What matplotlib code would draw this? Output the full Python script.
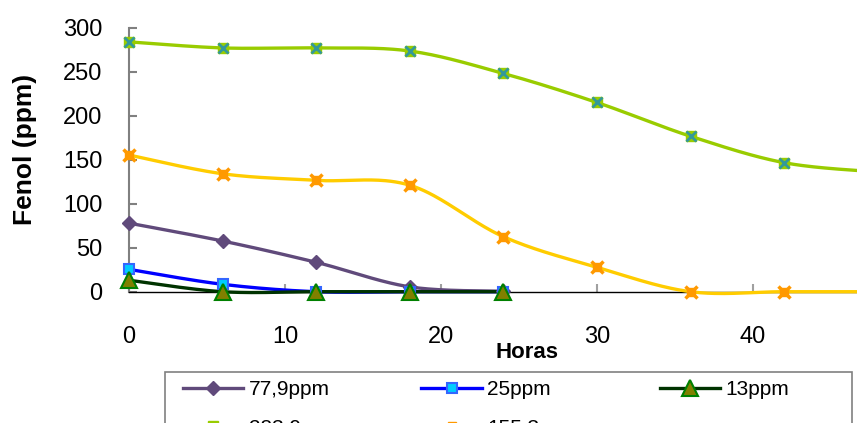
import numpy as np
import matplotlib.pyplot as plt
from matplotlib.patches import Rectangle

plt.rcParams['font.family'] = ['Liberation Sans', 'DejaVu Sans']

# sampling times (h) and phenol concentration for each initial load
horas_long = [0, 6, 12, 18, 24, 30, 36, 42, 48]
horas_short = [0, 6, 12, 18, 24]

fenol_779 = [77.9, 57.6, 33.4, 5.5, 0.5]
fenol_25 = [25.4, 8.4, 0, 0, 0]
fenol_13 = [13, 0, 0, 0, 0]
fenol_2839 = [283.9, 277, 277, 273.5, 248, 215, 176.6, 146.6, 136]
fenol_1553 = [155.3, 134, 126.5, 121, 62.5, 27.7, 0, 0, 0]

labels = ["77,9ppm", "25ppm", "13ppm", "283,9ppm", "155,3ppm"]


def smooth(xs, ys, n=40):
    # bezier smoothing like spreadsheet "smoothed line"
    xs = np.asarray(xs, float)
    ys = np.asarray(ys, float)
    px = np.concatenate([[xs[0]], xs, [xs[-1]]])
    py = np.concatenate([[ys[0]], ys, [ys[-1]]])
    out_x, out_y = [], []
    t = np.linspace(0, 1, n)
    for i in range(1, len(px) - 2):
        p0 = np.array([px[i], py[i]])
        p3 = np.array([px[i + 1], py[i + 1]])
        p1 = p0 + (np.array([px[i + 1], py[i + 1]]) - np.array([px[i - 1], py[i - 1]])) / 6
        p2 = p3 - (np.array([px[i + 2], py[i + 2]]) - np.array([px[i], py[i]])) / 6
        b = ((1 - t) ** 3)[:, None] * p0 + (3 * (1 - t) ** 2 * t)[:, None] * p1 \
            + (3 * (1 - t) * t ** 2)[:, None] * p2 + (t ** 3)[:, None] * p3
        out_x.extend(b[:, 0])
        out_y.extend(b[:, 1])
    return out_x, out_y


fig = plt.figure(figsize=(8.57, 4.23), dpi=100)
ax = fig.add_axes([129 / 857, 1 - 291.7 / 423, 1 - 129 / 857, 264 / 423])

# (x, y, line colour, marker styles drawn on top of each other)
series = [
    (horas_short, fenol_779, "#604a7b", [dict(marker="D", mfc="#604a7b", mec="#604a7b", ms=7)]),
    (horas_short, fenol_25, "#0000ff", [dict(marker="s", mfc="#00ccff", mec="#3366ff", ms=7, mew=1.5)]),
    (horas_short, fenol_13, "#003300", [dict(marker="^", mfc="#808000", mec="#008000", ms=11, mew=1.5)]),
    (horas_long, fenol_2839, "#99cc00", [dict(marker="s", mfc="#99cc00", mec="#99cc00", ms=7),
                                         dict(marker="x", mec="#339999", ms=7, mew=2)]),
    (horas_long, fenol_1553, "#ffcc00", [dict(marker="s", mfc="#ff9900", mec="#ff9900", ms=6),
                                         dict(marker="x", mec="#ff9900", ms=8, mew=2.5)]),
]

handles = []
for xs, ys, col, mks in series:
    sx, sy = smooth(xs, ys)
    ax.plot(sx, sy, color=col, lw=2.4, clip_on=False, zorder=3)
    for mk in mks:
        ax.plot(xs, ys, ls="none", clip_on=False, zorder=4, **mk)
    h, = ax.plot([], [], color=col, lw=2.4, **mks[0])
    handles.append(h)

ax.set_xlim(0, (857 - 129) / 15.6)
ax.set_ylim(0, 300)
ax.set_xticks([0, 10, 20, 30, 40])
ax.set_yticks(range(0, 301, 50))

ax.spines['top'].set_visible(False)
ax.spines['right'].set_visible(False)
ax.spines['left'].set_color("#808080")
ax.spines['left'].set_linewidth(1.5)
ax.spines['bottom'].set_color("black")
ax.spines['bottom'].set_linewidth(1)

ax.tick_params(axis='y', direction='in', length=6, width=1.5, color="#808080",
               labelsize=17, pad=19)
ax.tick_params(axis='x', direction='in', length=6, width=1.5, color="#a0a0a0",
               labelsize=17, pad=25)

fig.text(527 / 857, 1 - 352 / 423, "Horas", ha="center", va="center",
         fontsize=16, fontweight="bold")
fig.text(25 / 857, 1 - 149 / 423, "Fenol (ppm)", ha="center", va="center",
         rotation=90, fontsize=19, fontweight="bold")

# legend box, running past the bottom edge
fig.patches.append(Rectangle((165 / 857, -0.2), (852 - 165) / 857, 1 - 372 / 423 + 0.2,
                             transform=fig.transFigure, fill=False,
                             edgecolor="#808080", lw=1.2))

order = [0, 3, 1, 4, 2]
fig.legend([handles[i] for i in order], [labels[i] for i in order],
           loc="upper left", bbox_to_anchor=(183 / 857, 1 - 380 / 423),
           ncol=3, fontsize=15, frameon=False, borderaxespad=0, borderpad=0,
           handlelength=2.9, handletextpad=0.25, columnspacing=3.85, labelspacing=0.95)

fig.savefig("out.png", dpi=100)
